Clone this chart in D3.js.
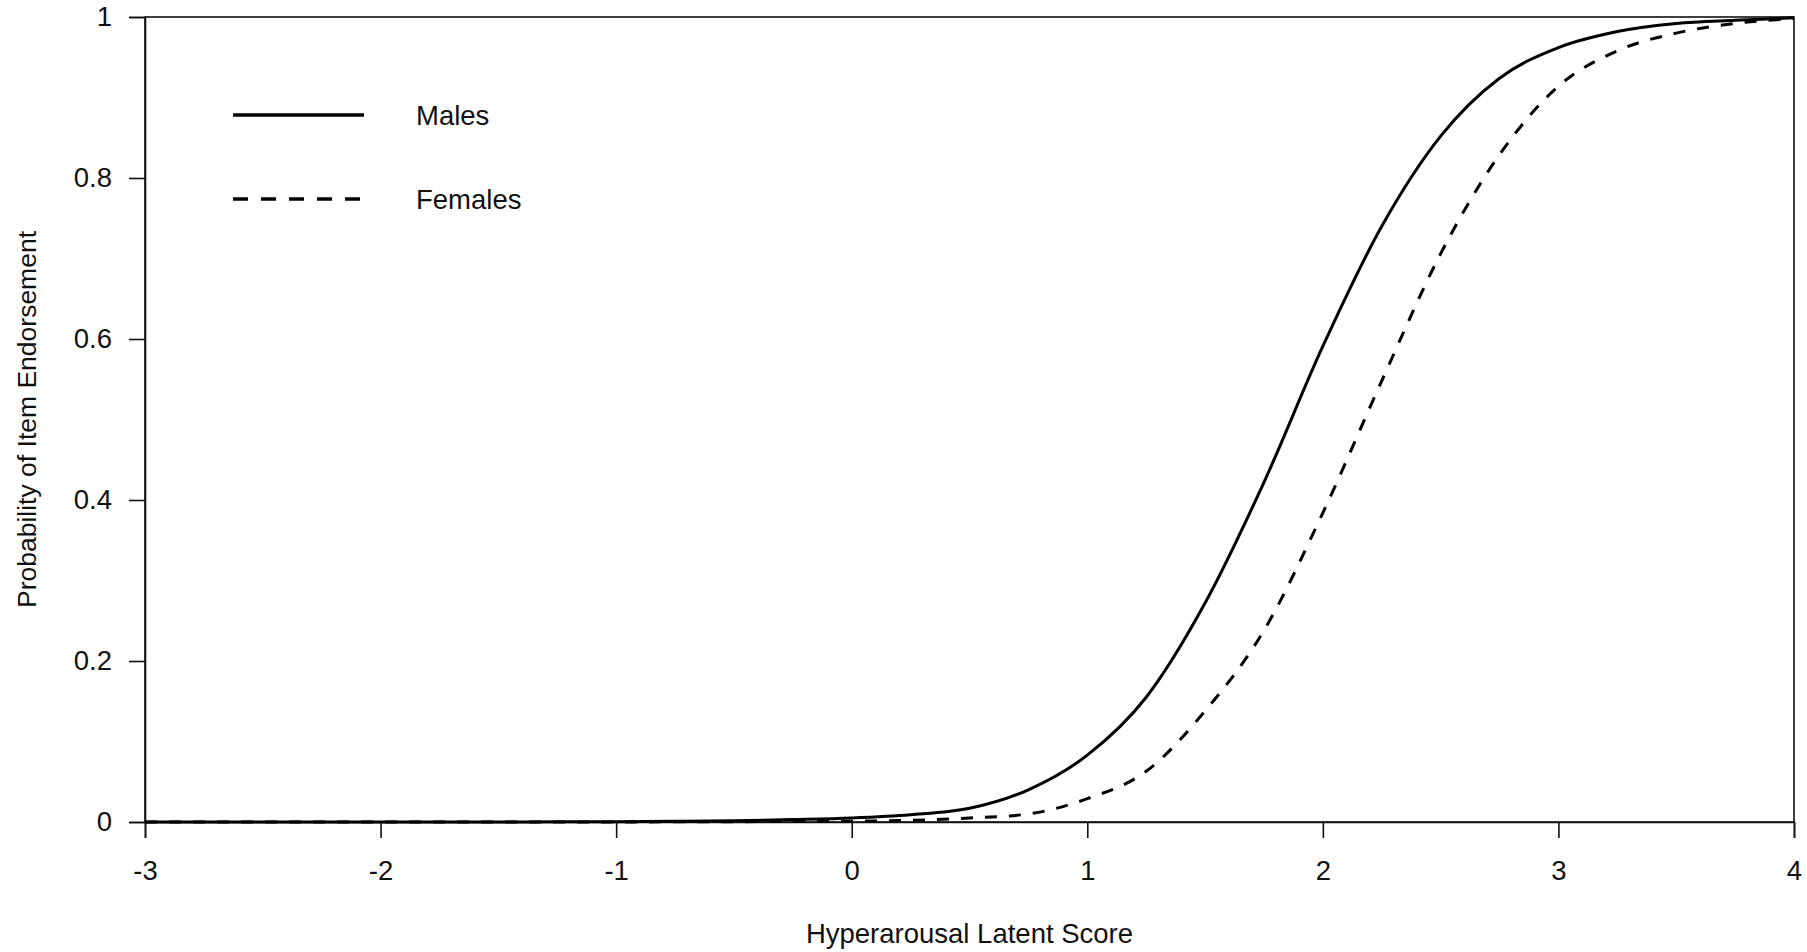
<!DOCTYPE html>
<html>
<head>
<meta charset="utf-8">
<script src="https://cdn.jsdelivr.net/npm/d3@7"></script>
<style>
  body { margin: 0; background: #fff; }
  text { font-family: "Liberation Sans", Arial, sans-serif; fill: #111; }
</style>
</head>
<body>
<svg id="chart"></svg>
<script>
// latent score grid and probabilities
var scores  = [-3, -2.75, -2.5, -2.25, -2, -1.75, -1.5, -1.25, -1, -0.75, -0.5, -0.25,
               0, 0.25, 0.5, 0.75, 1, 1.25, 1.5, 1.75, 2, 2.25, 2.5, 2.75, 3, 3.25, 3.5, 3.75, 4];
var males   = [0, 0, 0, 0, 0, 0, 0.0001, 0.0002, 0.0004, 0.0008, 0.0015, 0.003,
               0.005, 0.009, 0.017, 0.040, 0.083, 0.155, 0.272, 0.422, 0.591, 0.740, 0.852, 0.924, 0.962, 0.982, 0.992, 0.996, 0.999];
var females = [0, 0, 0, 0, 0, 0, 0, 0, 0.0001, 0.0002, 0.0004, 0.0007,
               0.001, 0.002, 0.005, 0.010, 0.029, 0.063, 0.138, 0.238, 0.384, 0.548, 0.706, 0.829, 0.914, 0.958, 0.980, 0.992, 0.998];

var xTicks = [-3, -2, -1, 0, 1, 2, 3, 4];
var yTicks = [0, 0.2, 0.4, 0.6, 0.8, 1];
var seriesNames = ["Males", "Females"];

var W = 1807, H = 952;
var margin = {top: 17, right: 13, bottom: 130, left: 145};
var width = W - margin.left - margin.right,
    height = H - margin.top - margin.bottom;

var svg = d3.select("#chart").attr("width", W).attr("height", H);
var g = svg.append("g").attr("transform", "translate(" + margin.left + "," + margin.top + ")");

var x = d3.scaleLinear().domain([-3, 4]).range([0, width]);
var y = d3.scaleLinear().domain([0, 1]).range([height, 0]);

// box
g.append("rect")
  .attr("width", width).attr("height", height)
  .attr("fill", "none").attr("stroke", "#111").attr("stroke-width", 1.6);

var xAxis = g.append("g")
  .attr("transform", "translate(0," + height + ")")
  .call(d3.axisBottom(x).tickValues(xTicks).tickSize(16).tickPadding(22).tickFormat(function(d) { return String(d); }));

var yAxis = g.append("g")
  .call(d3.axisLeft(y).tickValues(yTicks).tickSize(16).tickPadding(17).tickFormat(function(d) { return String(d); }));

[xAxis, yAxis].forEach(function(a) {
  a.select(".domain").attr("stroke", "#111").attr("stroke-width", 1.6);
  a.selectAll(".tick line").attr("stroke", "#111").attr("stroke-width", 1.6);
  a.selectAll(".tick text").attr("font-size", 27.5).attr("font-family", "Liberation Sans, Arial, sans-serif").attr("fill", "#111");
});

var line = d3.line()
  .x(function(d) { return x(d[0]); })
  .y(function(d) { return y(d[1]); })
  .curve(d3.curveMonotoneX);

g.append("path")
  .datum(d3.zip(scores, males))
  .attr("fill", "none").attr("stroke", "#000").attr("stroke-width", 3)
  .attr("d", line);

g.append("path")
  .datum(d3.zip(scores, females))
  .attr("fill", "none").attr("stroke", "#000").attr("stroke-width", 3)
  .attr("stroke-dasharray", "12,12")
  .attr("d", line);

// legend
var legend = svg.append("g");
seriesNames.forEach(function(name, i) {
  var ly = 115 + i * 84;
  legend.append("line")
    .attr("x1", 233).attr("x2", 364).attr("y1", ly).attr("y2", ly)
    .attr("stroke", "#000").attr("stroke-width", 3.5)
    .attr("stroke-dasharray", i === 1 ? "15,13" : null);
  legend.append("text")
    .attr("x", 416).attr("y", ly + 10)
    .attr("font-size", 27.5)
    .text(name);
});

// axis titles
svg.append("text")
  .attr("x", margin.left + width / 2).attr("y", 943)
  .attr("text-anchor", "middle").attr("font-size", 27.5)
  .text("Hyperarousal Latent Score");

svg.append("text")
  .attr("transform", "translate(36," + (margin.top + height / 2) + ") rotate(-90)")
  .attr("text-anchor", "middle").attr("font-size", 26.5)
  .text("Probability of Item Endorsement");
</script>
</body>
</html>
